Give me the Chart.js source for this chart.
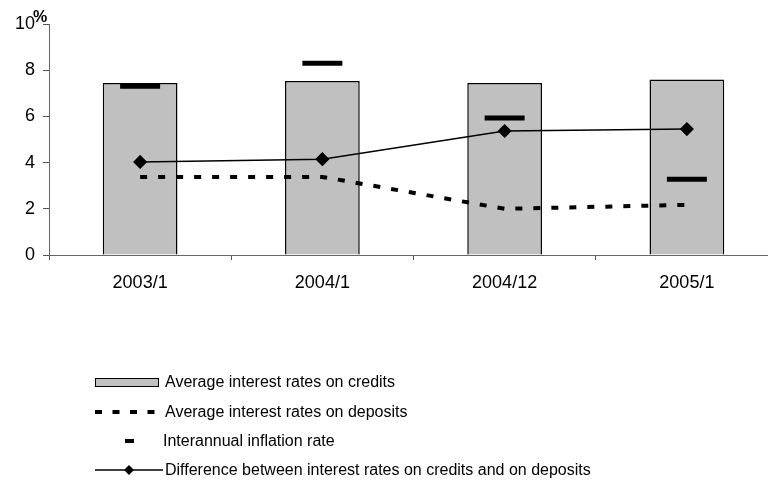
<!DOCTYPE html>
<html>
<head>
<meta charset="utf-8">
<script src="https://cdn.jsdelivr.net/npm/chart.js@4/dist/chart.umd.min.js"></script>
<style>
  html, body { margin: 0; padding: 0; background: #fff; overflow: hidden; }
  canvas { display: block; }
</style>
</head>
<body>
<canvas id="c" width="778" height="485"></canvas>
<script>
// Periods on the horizontal axis
const categories = ['2003/1', '2004/1', '2004/12', '2005/1'];
// Interest rates, %
const creditRates = [7.45, 7.53, 7.45, 7.6];
const depositRates = [3.38, 3.38, 2.0, 2.17];
const inflationRates = [7.3, 8.3, 5.93, 3.28];
const rateDifference = [4.03, 4.15, 5.37, 5.45];
// Value axis ticks
const yTicks = [0, 2, 4, 6, 8, 10];

const seriesNames = [
  'Average interest rates on credits',
  'Average interest rates on deposits',
  'Interannual inflation rate',
  'Difference between interest rates on credits and on deposits'
];

const FONT = '"Liberation Sans", Arial, sans-serif';

// Legend drawn as a vertical list under the plot, plus the "%" unit label
const extras = {
  id: 'extras',
  afterDraw(chart) {
    const ctx = chart.ctx;
    ctx.save();
    // unit label above the value axis
    ctx.fillStyle = '#000';
    ctx.font = 'bold 16px ' + FONT;
    ctx.textBaseline = 'alphabetic';
    ctx.textAlign = 'left';
    ctx.fillText('%', 33, 22);

    ctx.font = '16px ' + FONT;
    ctx.textBaseline = 'middle';
    const rows = [382, 412, 441, 470];
    // credits: grey box
    ctx.fillStyle = '#c0c0c0';
    ctx.strokeStyle = '#000';
    ctx.lineWidth = 1;
    ctx.fillRect(95.5, 378.5, 63, 8);
    ctx.strokeRect(95.5, 378.5, 63, 8);
    // deposits: dashed line
    ctx.beginPath();
    ctx.setLineDash([7, 10.5]);
    ctx.lineWidth = 4;
    ctx.moveTo(95, rows[1]);
    ctx.lineTo(158, rows[1]);
    ctx.stroke();
    ctx.setLineDash([]);
    // inflation: short bar
    ctx.fillStyle = '#000';
    ctx.fillRect(125, rows[2] - 2, 9, 4);
    // difference: line with diamond
    ctx.beginPath();
    ctx.lineWidth = 1.5;
    ctx.moveTo(95, rows[3]);
    ctx.lineTo(163, rows[3]);
    ctx.stroke();
    ctx.beginPath();
    ctx.moveTo(129, rows[3] - 5);
    ctx.lineTo(134, rows[3]);
    ctx.lineTo(129, rows[3] + 5);
    ctx.lineTo(124, rows[3]);
    ctx.closePath();
    ctx.fill();

    const textX = [165, 165, 163, 165];
    seriesNames.forEach((t, i) => ctx.fillText(t, textX[i], rows[i] + 1));
    ctx.restore();
  }
};

new Chart(document.getElementById('c'), {
  type: 'bar',
  data: {
    labels: categories,
    datasets: [
      {
        type: 'line',
        label: seriesNames[3],
        data: rateDifference,
        borderColor: '#000',
        backgroundColor: '#000',
        borderWidth: 1.5,
        pointStyle: 'rectRot',
        pointRadius: 6,
        pointHoverRadius: 6,
        tension: 0,
        order: 1
      },
      {
        type: 'line',
        label: seriesNames[2],
        data: inflationRates,
        showLine: false,
        borderColor: '#000',
        backgroundColor: '#000',
        borderWidth: 5,
        pointStyle: 'line',
        pointRadius: 20,
        pointHoverRadius: 20,
        order: 2
      },
      {
        type: 'line',
        label: seriesNames[1],
        data: depositRates,
        borderColor: '#000',
        borderWidth: 4,
        borderDash: [7, 11],
        pointRadius: 0,
        tension: 0,
        order: 3
      },
      {
        type: 'bar',
        label: seriesNames[0],
        data: creditRates,
        backgroundColor: '#c0c0c0',
        borderColor: '#000',
        borderWidth: 1.5,
        categoryPercentage: 1,
        barPercentage: 0.41,
        order: 4
      }
    ]
  },
  options: {
    responsive: false,
    animation: false,
    layout: { autoPadding: false, padding: { top: 24, left: 0, right: 0, bottom: 0 } },
    plugins: {
      legend: { display: false },
      tooltip: { enabled: false }
    },
    scales: {
      x: {
        offset: true,
        grid: { display: true, drawOnChartArea: false, offset: true, tickLength: 5, color: '#555' },
        border: { display: true, color: '#666', width: 1 },
        ticks: { color: '#000', font: { family: FONT, size: 18 }, padding: 12, maxRotation: 0 },
        afterFit(scale) { scale.height = 230; }
      },
      y: {
        min: 0,
        max: 10,
        afterBuildTicks(scale) { scale.ticks = yTicks.map(v => ({ value: v })); },
        grid: { display: true, drawOnChartArea: false, tickLength: 6, color: '#555' },
        border: { display: true, color: '#666', width: 1 },
        ticks: { color: '#000', font: { family: FONT, size: 18 }, padding: 8 },
        afterFit(scale) { scale.width = 49; }
      }
    }
  },
  plugins: [extras]
});
</script>
</body>
</html>
